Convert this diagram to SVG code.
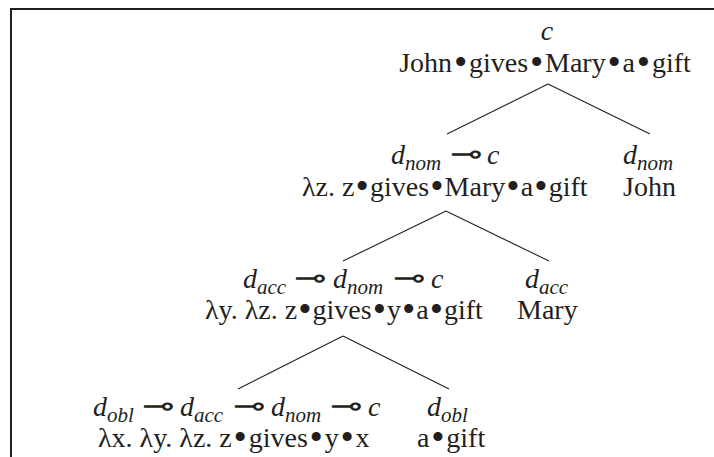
<svg xmlns="http://www.w3.org/2000/svg" width="714" height="457" viewBox="0 0 714 457">
<style>
text{font-family:"Liberation Serif","DejaVu Serif",serif;font-size:28px;fill:#231f20}
.i{font-style:italic}
.s{font-size:21px;font-style:italic}
.m{font-family:"DejaVu Sans","DejaVu Serif",sans-serif;font-weight:200;font-style:normal;font-size:30px;text-anchor:middle}
.b{font-size:38px}
line{stroke:#231f20;stroke-width:1.1}
.frame{stroke:#231f20;stroke-width:2;fill:none}
</style>
<rect width="714" height="457" fill="#fff"/>
<path class="frame" d="M11,457 V9 H714"/>
<g id="connectors">
<line x1="548" y1="84" x2="447" y2="134"/>
<line x1="548" y1="84" x2="650" y2="134"/>
<line x1="446" y1="211" x2="343" y2="261"/>
<line x1="446" y1="211" x2="549" y2="261"/>
<line x1="343" y1="336" x2="238" y2="389"/>
<line x1="343" y1="336" x2="449" y2="389"/>
</g>
<g id="root">
<text class="i" x="547" y="40" text-anchor="middle">c</text>
<text x="545" y="72" text-anchor="middle">John<tspan class="b" dx="1.8" dy="3">•</tspan><tspan dx="1.8" dy="-3">gives</tspan><tspan class="b" dx="1.8" dy="3">•</tspan><tspan dx="1.8" dy="-3">Mary</tspan><tspan class="b" dx="1.8" dy="3">•</tspan><tspan dx="1.8" dy="-3">a</tspan><tspan class="b" dx="1.8" dy="3">•</tspan><tspan dx="1.8" dy="-3">gift</tspan></text>
</g>
<g id="n-gives-mary-gift">
<text y="164"><tspan class="i" x="391">d</tspan><tspan class="s" x="405" y="170">nom</tspan><tspan class="i" x="487" y="164">c</tspan></text>
<text class="m" transform="translate(466,164) scale(1.3,1)">⊸</text>
<text x="302" y="196">λz. z<tspan class="b" dx="1.1" dy="3">•</tspan><tspan dx="1.1" dy="-3">gives</tspan><tspan class="b" dx="1.1" dy="3">•</tspan><tspan dx="1.1" dy="-3">Mary</tspan><tspan class="b" dx="1.1" dy="3">•</tspan><tspan dx="1.1" dy="-3">a</tspan><tspan class="b" dx="1.1" dy="3">•</tspan><tspan dx="1.1" dy="-3">gift</tspan></text>
</g>
<g id="n-john">
<text y="164"><tspan class="i" x="623">d</tspan><tspan class="s" x="637" y="170">nom</tspan></text>
<text x="623" y="196">John</text>
</g>
<g id="n-gives-y-gift">
<text y="288"><tspan class="i" x="243">d</tspan><tspan class="s" x="257" y="294">acc</tspan><tspan class="i" x="333" y="288">d</tspan><tspan class="s" x="347" y="294">nom</tspan><tspan class="i" x="431" y="288">c</tspan></text>
<text class="m" transform="translate(310,288) scale(1.3,1)">⊸</text>
<text class="m" transform="translate(409,288) scale(1.3,1)">⊸</text>
<text x="205" y="319">λy. λz. z<tspan class="b" dx="1" dy="3">•</tspan><tspan dx="1" dy="-3">gives</tspan><tspan class="b" dx="1" dy="3">•</tspan><tspan dx="1" dy="-3">y</tspan><tspan class="b" dx="1" dy="3">•</tspan><tspan dx="1" dy="-3">a</tspan><tspan class="b" dx="1" dy="3">•</tspan><tspan dx="1" dy="-3">gift</tspan></text>
</g>
<g id="n-mary">
<text y="288"><tspan class="i" x="525">d</tspan><tspan class="s" x="539" y="294">acc</tspan></text>
<text x="517" y="319">Mary</text>
</g>
<g id="n-gives-y-x">
<text y="416"><tspan class="i" x="93">d</tspan><tspan class="s" x="107" y="422">obl</tspan><tspan class="i" x="180" y="416">d</tspan><tspan class="s" x="194" y="422">acc</tspan><tspan class="i" x="271" y="416">d</tspan><tspan class="s" x="285" y="422">nom</tspan><tspan class="i" x="368" y="416">c</tspan></text>
<text class="m" transform="translate(158,416) scale(1.3,1)">⊸</text>
<text class="m" transform="translate(249,416) scale(1.3,1)">⊸</text>
<text class="m" transform="translate(346,416) scale(1.3,1)">⊸</text>
<text x="98" y="447">λx. λy. λz. z<tspan class="b" dx="1.8" dy="3">•</tspan><tspan dx="1.8" dy="-3">gives</tspan><tspan class="b" dx="1.8" dy="3">•</tspan><tspan dx="1.8" dy="-3">y</tspan><tspan class="b" dx="1.8" dy="3">•</tspan><tspan dx="1.8" dy="-3">x</tspan></text>
</g>
<g id="n-a-gift">
<text y="416"><tspan class="i" x="427">d</tspan><tspan class="s" x="441" y="422">obl</tspan></text>
<text x="417" y="447">a<tspan class="b" dx="1.8" dy="3">•</tspan><tspan dx="1.8" dy="-3">gift</tspan></text>
</g>
</svg>
